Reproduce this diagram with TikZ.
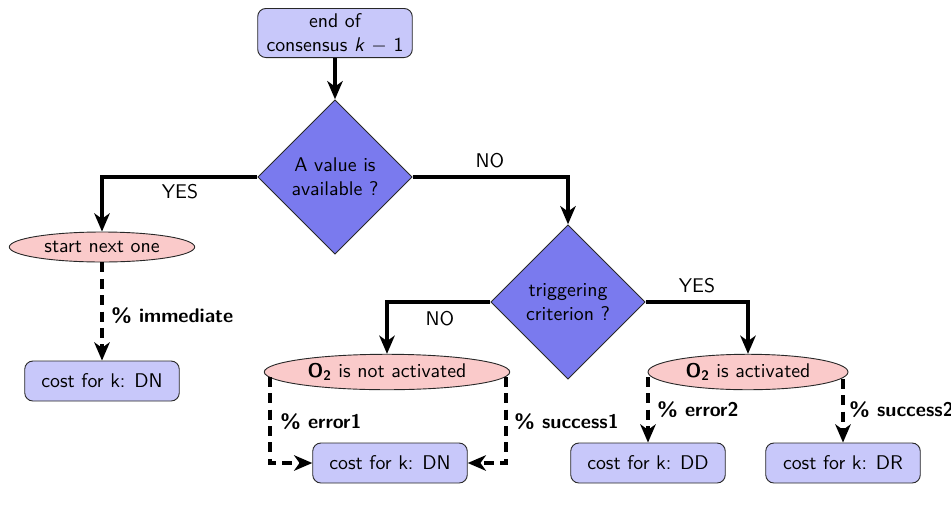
\documentclass[tikz,border=0pt]{standalone}
\usetikzlibrary{shapes.geometric,arrows.meta,calc}
\renewcommand{\familydefault}{\sfdefault}
\definecolor{boxfill}{RGB}{200,200,250}
\definecolor{diafill}{RGB}{122,122,238}
\definecolor{ellfill}{RGB}{250,202,202}
\definecolor{bordercol}{RGB}{40,40,40}
\newcommand{\diagfont}{\fontsize{10.9}{13.2}\selectfont}
\tikzset{
  every node/.style={font=\diagfont},
  boxnode/.style={draw=bordercol, fill=boxfill, rounded corners=4.5pt, minimum width=85pt, minimum height=22pt, align=center, inner sep=2pt, line width=0.5pt},
  dianode/.style={draw=bordercol, fill=diafill, diamond, minimum width=85pt, minimum height=85pt, inner sep=0pt, align=center, line width=0.5pt},
  ellnode/.style={draw=bordercol, fill=ellfill, ellipse, inner sep=0pt, line width=0.5pt},
  solidarrow/.style={line width=2.7pt, -{Stealth[length=10pt,width=8.5pt,inset=3pt]}},
  dasharrow/.style={line width=2.7pt, dash pattern=on 5.5pt off 3.5pt, -{Stealth[length=10pt,width=8.5pt,inset=3pt]}},
  lbl/.style={inner sep=0pt},
  blbl/.style={inner sep=0pt, font=\diagfont\bfseries, anchor=west},
}
\begin{document}
\begin{tikzpicture}[x=0.55pt, y=-0.55pt]
\useasboundingbox (0,0) rectangle (951,508);
% nodes
\node[boxnode, minimum height=27pt] (top) at (335,33) {end of\\consensus \textit{k} $-$ 1};
\node[dianode] (d1) at (335,177) {A value is\\available ?};
\node[dianode] (d2) at (568,302) {triggering\\criterion ?};
\node[ellnode, minimum width=102pt, minimum height=16.5pt] (e1) at (102,247) {start next one};
\node[ellnode, minimum width=135pt, minimum height=19.5pt] (e2) at (387,372) {{\bfseries O\textsubscript{2}} is not activated};
\node[ellnode, minimum width=110pt, minimum height=19.5pt] (e3) at (748,372) {{\bfseries O\textsubscript{2}} is activated};
\node[boxnode] (c1) at (102,381) {cost for k: DN};
\node[boxnode] (c2) at (390,463) {cost for k: DN};
\node[boxnode] (c3) at (648,463) {cost for k: DD};
\node[boxnode] (c4) at (843,463) {cost for k: DR};
% solid connectors
\draw[solidarrow] (top.south) -- (d1.north);
\draw[solidarrow] (d1.west) -| (e1.north);
\draw[solidarrow] (d1.east) -| (d2.north);
\draw[solidarrow] (d2.west) -| (e2.north);
\draw[solidarrow] (d2.east) -| (e3.north);
% dashed connectors
\draw[dasharrow] (e1.south) -- (c1.north);
\draw[dasharrow] ($(e2.center)+(-117,5)$) |- (c2.west);
\draw[dasharrow] ($(e2.center)+(119,5)$) |- (c2.east);
\draw[dasharrow] ($(e3.center)+(-100,5)$) -- (c3.north);
\draw[dasharrow] ($(e3.center)+(95,7)$) -- (c4.north);
% labels
\node[lbl] (yes1) at (180,192) {YES};
\node[lbl] (no1) at (490,161) {NO};
\node[lbl] (no2) at (440,319) {NO};
\node[lbl] (yes2) at (697,286) {YES};
\node[blbl] (l1) at (111,316) {\% immediate};
\node[blbl] (l2) at (280,422) {\% error1};
\node[blbl] (l3) at (514,422) {\% success1};
\node[blbl] (l4) at (657,410) {\% error2};
\node[blbl] (l5) at (849,410) {\% success2};
\end{tikzpicture}
\end{document}
